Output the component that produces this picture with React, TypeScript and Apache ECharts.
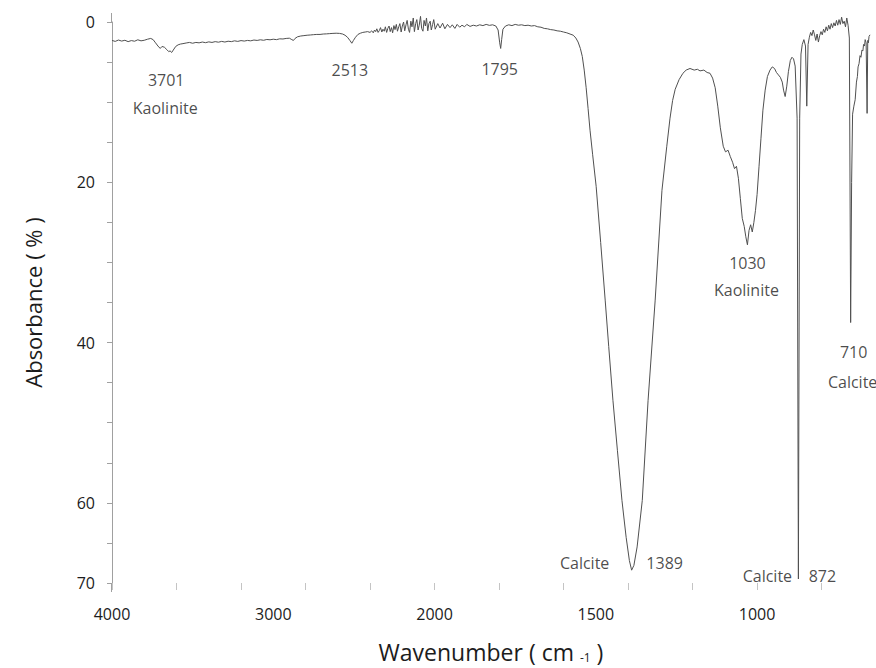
import { useEffect, useRef } from "react";
import * as echarts from "echarts";

// FTIR absorbance spectrum of a kaolinite / calcite sample.
// The wavenumber axis is expanded 2x below 2000 cm-1 (usual FTIR layout).

// [wavenumber (cm-1), absorbance (%)]
const spectrumHigh: [number, number][] = [
  [4000, 2.3], [3980, 2.42], [3960, 2.25], [3940, 2.38], [3920, 2.28], [3900, 2.45],
  [3880, 2.32], [3860, 2.4], [3840, 2.22], [3820, 2.35], [3800, 2.28], [3780, 2.15],
  [3760, 2.05], [3745, 2.2], [3730, 2.6], [3715, 3.0], [3701, 3.3], [3690, 3.05],
  [3675, 3.15], [3660, 3.45], [3648, 3.7], [3640, 3.6], [3630, 3.8], [3620, 3.5],
  [3605, 3.05], [3590, 2.85], [3575, 2.75], [3560, 2.7], [3540, 2.62], [3520, 2.55],
  [3500, 2.65], [3480, 2.55], [3460, 2.6], [3440, 2.5], [3420, 2.58], [3400, 2.48],
  [3380, 2.55], [3360, 2.45], [3340, 2.52], [3320, 2.42], [3300, 2.5], [3280, 2.4],
  [3260, 2.45], [3240, 2.35], [3220, 2.42], [3200, 2.32], [3180, 2.38], [3160, 2.3],
  [3140, 2.35], [3120, 2.25], [3100, 2.3], [3080, 2.22], [3060, 2.28], [3040, 2.18],
  [3020, 2.22], [3000, 2.15], [2980, 2.2], [2960, 2.1], [2940, 2.12], [2920, 2.05],
  [2900, 2.02], [2885, 2.2], [2875, 2.3], [2865, 2.05], [2850, 1.85], [2830, 1.75],
  [2810, 1.7], [2790, 1.65], [2770, 1.62], [2750, 1.58], [2730, 1.55], [2710, 1.55],
  [2690, 1.5], [2670, 1.48], [2650, 1.45], [2630, 1.42], [2610, 1.4], [2590, 1.42],
  [2570, 1.5], [2555, 1.65], [2540, 1.9], [2525, 2.3], [2513, 2.65], [2503, 2.3],
  [2490, 1.9], [2475, 1.55], [2460, 1.4], [2445, 1.3], [2430, 1.25], [2415, 1.2],
  [2400, 1.3], [2390, 1.1],
];

const spectrumNoisy: [number, number][] = [
  [2380, 1.35], [2372, 1.0], [2365, 1.2], [2358, 0.85], [2350, 1.3], [2342, 1.05],
  [2335, 0.7], [2327, 1.25], [2320, 0.9], [2312, 1.15], [2305, 0.6], [2297, 1.3],
  [2290, 0.8], [2282, 0.5], [2275, 1.2], [2267, 0.7], [2260, 1.35], [2252, 0.45],
  [2245, 0.95], [2237, 0.3], [2230, 1.15], [2222, 0.6], [2215, 0.2], [2207, 1.25],
  [2200, 0.5], [2192, 0.0], [2185, 1.1], [2177, 0.35], [2170, -0.2], [2162, 0.9],
  [2155, 1.3], [2147, -0.1], [2140, 0.6], [2132, -0.5], [2125, 1.2], [2117, 0.2],
  [2110, -0.3], [2102, 1.0], [2095, 0.4], [2087, -0.7], [2080, 0.8], [2072, 1.15],
  [2065, -0.2], [2057, 0.5], [2050, -0.5], [2042, 1.1], [2035, 0.2], [2027, -0.1],
  [2020, 1.0], [2012, 0.3], [2005, -0.3], [1998, 0.9], [1990, 0.2], [1983, 0.75],
  [1975, 0.15], [1968, 0.85], [1960, 0.3], [1952, 0.7], [1945, 0.35], [1937, 0.8],
  [1930, 0.3], [1922, 0.65], [1915, 0.4], [1907, 0.6], [1900, 0.3], [1890, 0.55],
  [1880, 0.4], [1870, 0.5], [1860, 0.35], [1850, 0.45], [1840, 0.3], [1830, 0.42],
  [1820, 0.35], [1810, 0.5],
];

const spectrumCarbonate: [number, number][] = [
  [1803, 1.0], [1798, 2.6], [1795, 3.3], [1792, 2.2], [1788, 0.9], [1780, 0.5],
  [1770, 0.35], [1760, 0.45], [1750, 0.3], [1740, 0.4], [1730, 0.35], [1720, 0.45],
  [1710, 0.4], [1700, 0.5], [1690, 0.45], [1680, 0.6], [1670, 0.65], [1660, 0.8],
  [1650, 0.85], [1640, 0.95], [1630, 1.0], [1620, 1.1], [1610, 1.15], [1600, 1.25],
  [1590, 1.35], [1580, 1.5], [1570, 1.65], [1562, 2.0], [1555, 2.5], [1548, 3.3],
  [1542, 4.3], [1536, 6.0], [1530, 8.2], [1524, 10.8], [1518, 13.5], [1510, 16.5],
  [1499, 20.5], [1485, 27.5], [1471, 34.7], [1460, 40.5], [1447, 47.2], [1433, 53.5],
  [1419, 59.7], [1406, 64.3], [1396, 67.2], [1389, 68.4], [1382, 67.8], [1372, 65.5],
  [1356, 59.7], [1338, 47.2], [1316, 34.7], [1295, 21.0], [1280, 15.5], [1270, 12.0],
  [1262, 9.8], [1254, 8.4], [1242, 7.2], [1230, 6.4], [1220, 6.0], [1208, 5.8],
  [1195, 6.0], [1185, 5.9], [1177, 6.1], [1165, 6.0], [1155, 6.3], [1146, 6.4],
  [1138, 7.0], [1130, 8.2], [1122, 10.5], [1114, 13.2],
];

const spectrumFingerprint: [number, number][] = [
  [1105, 15.5], [1098, 16.2], [1090, 16.0], [1083, 16.8], [1076, 17.5], [1070, 18.3],
  [1064, 18.0], [1058, 19.5], [1052, 22.0], [1046, 24.5], [1040, 25.5], [1035, 26.8],
  [1030, 27.8], [1025, 26.0], [1020, 25.3], [1015, 26.2], [1010, 25.0], [1005, 23.5],
  [1000, 21.5], [994, 18.0], [988, 14.5], [982, 11.0], [975, 8.5], [968, 6.8],
  [960, 6.0], [953, 5.6], [946, 5.8], [940, 6.3], [934, 6.6], [928, 6.9],
  [922, 7.5], [918, 8.5], [913, 9.3], [908, 8.0], [903, 6.2], [897, 4.8],
  [892, 4.4], [887, 4.6], [882, 5.5], [876, 12.0], [872, 69.5], [868, 12.0],
  [864, 4.0], [860, 2.8], [855, 2.2], [850, 3.0], [846, 10.5], [842, 2.8],
  [838, 1.9], [834, 1.3], [830, 1.7], [826, 1.0], [822, 1.6], [818, 2.3],
  [814, 1.5], [810, 2.5], [806, 1.7], [802, 1.2], [798, 1.6], [794, 0.9],
  [790, 1.3], [786, 0.6], [782, 1.1], [778, 0.4], [774, 0.9], [770, 0.2],
  [766, 0.7], [762, 0.1], [758, 0.5], [754, -0.2], [750, 0.4], [746, -0.3],
  [742, 0.3], [738, -0.6], [734, 0.2], [730, -0.1], [726, 0.6], [722, -0.5],
  [718, 0.4], [714, 2.0], [710, 37.5], [707, 20.0], [704, 11.5], [700, 10.5],
  [696, 9.7], [692, 7.5], [689, 6.8], [687, 5.6], [684, 5.2], [681, 4.2],
  [678, 4.4], [675, 3.5], [672, 3.6], [670, 2.8], [667, 3.0], [665, 2.2],
  [662, 2.6], [659, 11.4], [657, 2.3], [655, 2.6], [653, 1.8], [650, 1.6],
];

// Axis ticks and labels, in wavenumbers / absorbance
const xTickWavenumbers = [4000, 3600, 3200, 2800, 2400, 2000, 1800, 1600, 1400, 1200, 1000, 800];
const xLabelWavenumbers = [4000, 3000, 2000, 1500, 1000];
const xEndWavenumber = 650;
const yTickValues = [0, 5, 10, 15, 20, 25, 30, 35, 40, 45, 50, 55, 60, 65, 70];
const yLabelValues = [0, 20, 40, 60, 70];

// Band assignments
const peakWavenumbers = [3701, 2513, 1795, 1389, 1030, 872, 710];
const peakMinerals = ["Kaolinite", "", "", "Calcite", "Kaolinite", "Calcite", "Calcite"];

// Where each annotation sits: [absorbance level, horizontal offset px]
const numberPlacement: [number, number][] = [
  [7.2, 6], [6.05, -2], [5.9, -1], [67.5, 33], [30.1, 0], [69.1, 24], [41.2, 3],
];
const mineralPlacement: [number, number][] = [
  [10.7, 5], [0, 0], [0, 0], [67.5, -47], [33.4, -1], [69.1, -31], [44.9, 2],
];

// Piecewise wavenumber scale: 1000 cm-1 per unit above 2000, 500 cm-1 per unit below.
const SPLIT = 2000;
const toAxis = (w: number) => (w >= SPLIT ? (4000 - w) / 1000 : 2 + (SPLIT - w) / 500);
const fromAxis = (u: number) => (u <= 2 ? 4000 - 1000 * u : SPLIT - 500 * (u - 2));

const FONT = "'Open Sans', 'Noto Sans', sans-serif";
const TEXT = "#1c1c1c";
const AXIS_GREY = "#a0a0a0";

export default function App() {
  const ref = useRef<HTMLDivElement>(null);

  useEffect(() => {
    if (!ref.current) return;
    const chart = echarts.init(ref.current, undefined, { renderer: "svg" });

    const spectrum = [...spectrumHigh, ...spectrumNoisy, ...spectrumCarbonate, ...spectrumFingerprint].map(
      ([w, a]) => [toAxis(w), a]
    );

    const annotations: any[] = [];
    peakWavenumbers.forEach((w, i) => {
      const [lvl, dx] = numberPlacement[i];
      annotations.push({
        value: [toAxis(w), lvl],
        label: { formatter: String(w), offset: [dx, 0] },
      });
      if (peakMinerals[i]) {
        const [mLvl, mDx] = mineralPlacement[i];
        annotations.push({
          value: [toAxis(w), mLvl],
          label: { formatter: peakMinerals[i], offset: [mDx, 0] },
        });
      }
    });

    chart.setOption({
      animation: false,
      backgroundColor: "#ffffff",
      grid: { left: 112, top: 22, width: 758, height: 561, containLabel: false },
      // the vertical axis line runs a little past both end ticks
      graphic: [
        { type: "line", shape: { x1: 111.5, y1: 13, x2: 111.5, y2: 22 }, style: { stroke: AXIS_GREY, lineWidth: 1 } },
        { type: "line", shape: { x1: 111.5, y1: 583, x2: 111.5, y2: 592 }, style: { stroke: AXIS_GREY, lineWidth: 1 } },
      ],
      xAxis: {
        type: "value",
        position: "bottom",
        min: 0,
        max: toAxis(xEndWavenumber),
        axisLine: { show: false, onZero: false },
        axisTick: {
          show: true,
          customValues: xTickWavenumbers.map(toAxis),
          length: 7,
          lineStyle: { color: "#c4c4c4", width: 1 },
        },
        axisLabel: {
          customValues: xLabelWavenumbers.map(toAxis),
          formatter: (v: number) => String(Math.round(fromAxis(v))),
          margin: 23,
          fontSize: 16,
          color: TEXT,
          fontFamily: FONT,
        },
        splitLine: { show: false },
        name: "Wavenumber ( cm {s|-1} )",
        nameLocation: "middle",
        nameGap: 57,
        nameTextStyle: {
          fontSize: 23,
          color: TEXT,
          fontFamily: FONT,
          rich: { s: { fontSize: 12, color: TEXT, fontFamily: FONT, verticalAlign: "bottom", padding: [7, 0, 0, 0] } },
        },
      },
      yAxis: {
        type: "value",
        inverse: true,
        min: 0,
        max: 70,
        axisLine: { show: true, lineStyle: { color: AXIS_GREY, width: 1 } },
        axisTick: {
          show: true,
          customValues: yTickValues,
          length: 5,
          lineStyle: { color: AXIS_GREY, width: 1 },
        },
        axisLabel: {
          customValues: yLabelValues,
          margin: 17,
          fontSize: 16,
          color: TEXT,
          fontFamily: FONT,
        },
        splitLine: { show: false },
        name: "Absorbance ( % )",
        nameLocation: "middle",
        nameGap: 68,
        nameTextStyle: { fontSize: 22, color: TEXT, fontFamily: FONT },
      },
      series: [
        {
          type: "line",
          data: spectrum,
          showSymbol: false,
          symbol: "none",
          clip: false,
          lineStyle: { color: "#505050", width: 1 },
          silent: true,
        },
        {
          type: "scatter",
          data: annotations,
          symbolSize: 1,
          itemStyle: { color: "rgba(0,0,0,0)" },
          silent: true,
          label: {
            show: true,
            position: "inside",
            fontSize: 16,
            color: TEXT,
            fontFamily: FONT,
          },
        },
      ],
    });

    return () => chart.dispose();
  }, []);

  return (
    <div
      ref={ref}
      style={{ position: "absolute", left: 0, top: 0, width: 876, height: 668, background: "#fff" }}
    />
  );
}
